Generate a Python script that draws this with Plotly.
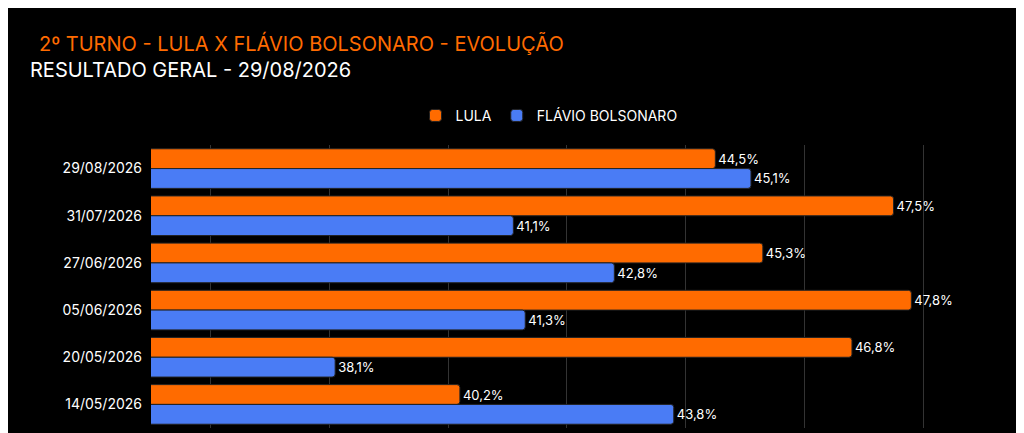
import plotly.graph_objects as go

datas = ["29/08/2026", "31/07/2026", "27/06/2026", "05/06/2026", "20/05/2026", "14/05/2026"]
lula = [44.5, 47.5, 45.3, 47.8, 46.8, 40.2]
flavio = [45.1, 41.1, 42.8, 41.3, 38.1, 43.8]


def rotulo(vals):
    return [f"{v:.1f}%".replace(".", ",") for v in vals]


fig = go.Figure()
fig.add_trace(go.Bar(
    y=datas, x=lula, name="LULA", orientation="h",
    marker=dict(color="#FF6B00", line=dict(color="#222", width=1), cornerradius=3),
    text=rotulo(lula), textposition="outside", cliponaxis=False,
    textfont=dict(color="white", size=13),
))
fig.add_trace(go.Bar(
    y=datas, x=flavio, name="FLÁVIO BOLSONARO", orientation="h",
    marker=dict(color="#4A7CF5", line=dict(color="#222", width=1), cornerradius=3),
    text=rotulo(flavio), textposition="outside", cliponaxis=False,
    textfont=dict(color="white", size=13),
))

fig.update_layout(
    width=1024, height=433,
    paper_bgcolor="black", plot_bgcolor="black",
    font=dict(family="Inter, Roboto, sans-serif", color="white"),
    barmode="group", bargap=0.16, bargroupgap=0.0,
    margin=dict(l=143, r=85, t=137, b=13),
    showlegend=True,
    legend=dict(orientation="h", x=0.5, xanchor="center", y=1.103, yanchor="middle",
                font=dict(size=14, color="white")),
    annotations=[
        dict(text="2º TURNO - LULA X FLÁVIO BOLSONARO - EVOLUÇÃO", xref="paper", yref="paper",
             x=-0.143, y=1.36, xanchor="left", yanchor="middle", showarrow=False,
             font=dict(size=20, color="#FF6B00")),
        dict(text="RESULTADO GERAL - 29/08/2026", xref="paper", yref="paper",
             x=-0.155, y=1.265, xanchor="left", yanchor="middle", showarrow=False,
             font=dict(size=20, color="white")),
    ],
)
fig.update_xaxes(range=[35, 48.4], dtick=2, tick0=36, showticklabels=False,
                 showgrid=True, gridcolor="#333", zeroline=False)
fig.update_yaxes(autorange="reversed", tickfont=dict(size=14, color="white"),
                 ticks="", ticklabelstandoff=8)

fig.write_html("out.html")
